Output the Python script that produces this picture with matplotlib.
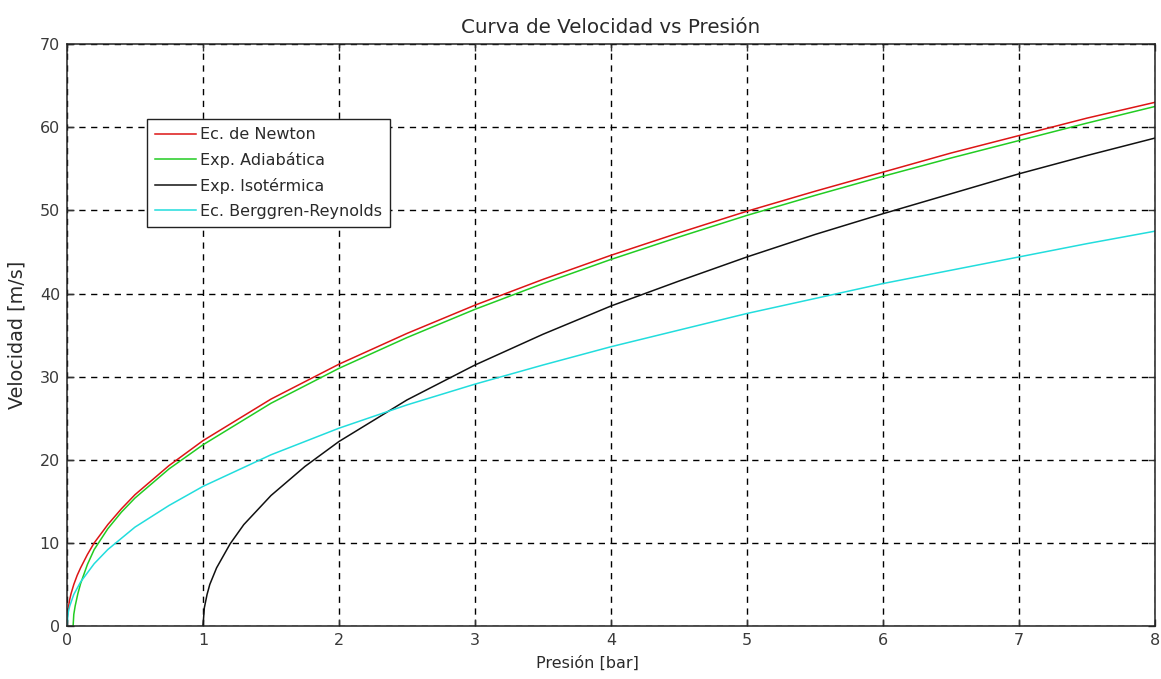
import matplotlib
matplotlib.use("Agg")
import matplotlib.pyplot as plt

plt.rcParams['font.family'] = ['DejaVu Sans']

# Ec. de Newton
x_newton = [0.003, 0.01, 0.02, 0.03, 0.05, 0.075, 0.1, 0.15, 0.2, 0.3, 0.4, 0.5, 0.75,
            1.0, 1.5, 2.0, 2.5, 3.0, 3.5, 4.0, 4.5, 5.0, 5.5, 6.0, 6.5, 7.0, 7.5, 8.0]
v_newton = [1.2, 2.2, 3.2, 3.9, 5.0, 6.1, 7.0, 8.6, 10.0, 12.2, 14.1, 15.8, 19.3,
            22.3, 27.3, 31.5, 35.2, 38.6, 41.7, 44.6, 47.3, 49.9, 52.3, 54.6, 56.9, 59.0, 61.1, 63.0]

# Exp. Adiabática
x_adiab = [0.045, 0.05, 0.06, 0.08, 0.1, 0.15, 0.2, 0.3, 0.4, 0.5, 0.75,
           1.0, 1.5, 2.0, 2.5, 3.0, 3.5, 4.0, 4.5, 5.0, 5.5, 6.0, 6.5, 7.0, 7.5, 8.0]
v_adiab = [0.0, 1.4, 2.4, 3.9, 5.1, 7.4, 9.2, 11.7, 13.7, 15.4, 18.9,
           21.8, 26.8, 31.0, 34.7, 38.1, 41.2, 44.1, 46.8, 49.4, 51.8, 54.1, 56.3, 58.4, 60.5, 62.5]

# Exp. Isotérmica
x_isot = [1.0, 1.01, 1.03, 1.05, 1.1, 1.2, 1.3, 1.5, 1.75,
          2.0, 2.5, 3.0, 3.5, 4.0, 4.5, 5.0, 5.5, 6.0, 6.5, 7.0, 7.5, 8.0]
v_isot = [0.0, 2.2, 3.8, 5.0, 7.0, 9.9, 12.2, 15.7, 19.2,
          22.2, 27.2, 31.4, 35.1, 38.5, 41.5, 44.4, 47.1, 49.6, 52.0, 54.4, 56.6, 58.7]

# Ec. Berggren-Reynolds
x_berg = [0.0, 0.01, 0.02, 0.05, 0.1, 0.2, 0.3, 0.5, 0.75,
          1.0, 1.5, 2.0, 2.5, 3.0, 3.5, 4.0, 4.5, 5.0, 5.5, 6.0, 6.5, 7.0, 7.5, 8.0]
v_berg = [0.0, 1.7, 2.4, 3.8, 5.3, 7.5, 9.2, 11.9, 14.5,
          16.8, 20.6, 23.8, 26.6, 29.1, 31.4, 33.6, 35.6, 37.6, 39.4, 41.2, 42.8, 44.4, 46.0, 47.5]

labels = ['Ec. de Newton', 'Exp. Adiabática', 'Exp. Isotérmica', 'Ec. Berggren-Reynolds']
colors = ['#dd1515', '#22cc22', '#111111', '#22dddd']

x_ticks = [0, 1, 2, 3, 4, 5, 6, 7, 8]
y_ticks = [0, 10, 20, 30, 40, 50, 60, 70]

fig = plt.figure(figsize=(11.61, 6.79), dpi=100)
ax = fig.add_axes([0.0577, 0.078, 0.9371, 0.857])

series = [(x_newton, v_newton), (x_adiab, v_adiab), (x_isot, v_isot), (x_berg, v_berg)]
for (xs, ys), lab, col in zip(series, labels, colors):
    ax.plot(xs, ys, color=col, lw=1.1, label=lab)

ax.set_xlim(0, 8)
ax.set_ylim(0, 70)
ax.set_xticks(x_ticks)
ax.set_yticks(y_ticks)
ax.grid(True, color='black', linestyle=(0, (4.5, 4)), linewidth=1.0)
ax.tick_params(direction='in', length=5, width=1, labelsize=11.5, colors='#333333',
               top=True, right=True, labelcolor='#3a3a3a', pad=5)
for sp in ax.spines.values():
    sp.set_color('#222222')
    sp.set_linewidth(1.1)

ax.set_title('Curva de Velocidad vs Presión', fontsize=14.3, color='#2a2a2a', pad=8)
ax.set_xlabel('Presión [bar]', fontsize=11.5, color='#2a2a2a')
ax.set_ylabel('Velocidad [m/s]', fontsize=13.8, color='#2a2a2a')
ax.xaxis.set_label_coords(0.478, -0.050)
ax.yaxis.set_label_coords(-0.037, 0.5)

leg = ax.legend(loc='upper left', bbox_to_anchor=(0.0735, 0.871), borderaxespad=0,
                fancybox=False, framealpha=1, edgecolor='#222222', fontsize=11.5,
                handlelength=2.55, handletextpad=0.25, borderpad=0.5, labelspacing=0.62)
leg.get_frame().set_linewidth(1.0)
for t in leg.get_texts():
    t.set_color('#2a2a2a')

fig.savefig('out.png', dpi=100)
